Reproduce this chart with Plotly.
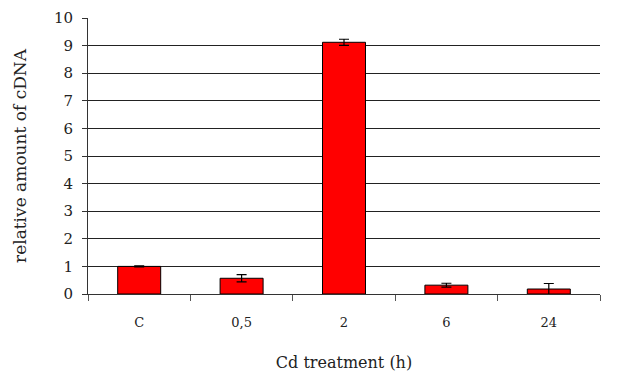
import plotly.graph_objects as go

categories = ["C", "0,5", "2", "6", "24"]
values = [1.0, 0.57, 9.12, 0.32, 0.18]
errors = [0.02, 0.13, 0.11, 0.07, 0.2]
y_ticks = list(range(0, 11))

font_family = "DejaVu Serif"

fig = go.Figure()
fig.add_trace(go.Bar(
    x=categories, y=values,
    width=0.42,
    marker=dict(color="#ff0000", line=dict(color="#000000", width=1)),
    error_y=dict(type="data", array=errors, visible=True, color="#000000",
                 thickness=1.2, width=5),
))

fig.update_layout(
    width=628, height=373,
    margin=dict(l=88, r=28, t=18, b=79),
    plot_bgcolor="white", paper_bgcolor="white",
    showlegend=False,
    font=dict(family=font_family, color="#222222", size=13),
)
fig.update_xaxes(
    type="category",
    tickson="boundaries",
    ticks="outside", ticklen=6, tickcolor="#555555",
    showline=True, linecolor="#333333", linewidth=1,
    showgrid=False,
    automargin=False,
    tickfont=dict(size=13),
    ticklabelstandoff=16,
    title=dict(text="Cd treatment (h)", font=dict(size=16), standoff=28),
)
fig.update_yaxes(
    range=[0, 10],
    tickvals=y_ticks,
    ticks="outside", ticklen=5, tickcolor="#333333",
    showline=True, linecolor="#333333", linewidth=1,
    showgrid=True, gridcolor="#222222", gridwidth=1,
    zeroline=False,
    automargin=False,
    tickfont=dict(size=15),
    ticklabelstandoff=6,
    title=dict(text="relative amount of cDNA", font=dict(size=17), standoff=22),
)

fig.write_html("out.html")
